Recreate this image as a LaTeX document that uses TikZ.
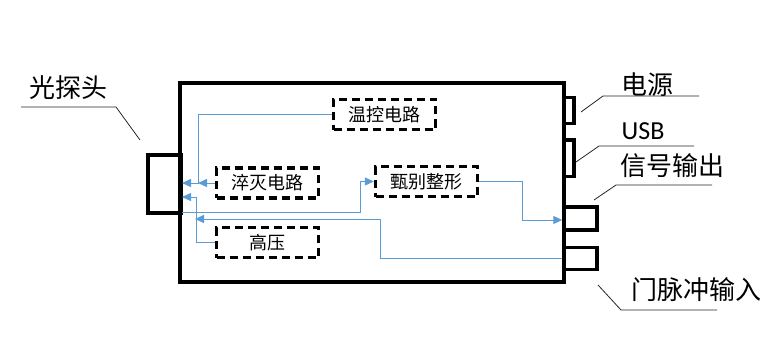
\documentclass[tikz,border=0pt]{standalone}
\usepackage{fontspec}
\usepackage{tikz}
\usetikzlibrary{positioning,arrows.meta,calc}
\newfontfamily\cjk{Noto Sans CJK SC}
\newfontfamily\latn{Carlito}
\definecolor{cWire}{HTML}{5B9BD5}
\definecolor{cLead}{HTML}{262626}
\tikzset{
  housing/.style={draw,line width=4pt,inner sep=0pt},  port/.style={draw,line width=3.5pt,inner sep=0pt},
  blk/.style={draw,dash pattern=on 8pt off 5pt,line width=3.4pt,inner sep=0pt,minimum width=102pt,minimum height=30pt,font=\cjk\fontsize{18}{20}\selectfont},
  lbl/.style={inner sep=0pt,font=\cjk\fontsize{26}{28}\selectfont},
  wire/.style={draw=cWire,line width=1pt},
  arr/.style={wire,-{Triangle[length=9pt,width=8pt]}},
  lead/.style={draw=cLead,line width=0.8pt}}
\begin{document}
\begin{tikzpicture}[x=1pt,y=-1pt]
\useasboundingbox (0,0) rectangle (773,350);
\node[housing,minimum width=384pt,minimum height=199pt] (main) at (372,182.5) {};
\node[housing,minimum width=33pt,minimum height=58pt] (probe) at (164.5,184) {};
\node[port,minimum width=9.5pt,minimum height=26pt] (pwr) at (569,110.5) {};
\node[port,minimum width=9.5pt,minimum height=36.5pt] (usb) at (569,158) {};
\node[port,minimum width=33pt,minimum height=23pt] (sout) at (580.5,218.5) {};
\node[port,minimum width=33pt,minimum height=22pt] (gate) at (580.5,258.5) {};
\node[blk] (tctl) at (384.5,114.5) {温控电路};
\node[blk] (quench) at (267.5,183) {淬灭电路};
\node[blk] (hv) at (267.5,242.5) {高压};
\node[blk] (disc) at (426.5,181.5) {甄别整形};
\coordinate (inA) at (182,183); \coordinate (inB) at (182,197); \coordinate (outA) at (182,212); \coordinate (inC) at (195,219);
\coordinate (tdrop) at (198,183); \coordinate (hrise) at (196,197); \coordinate (dbend) at (360,181.5);
\coordinate (sbend) at (522,220); \coordinate (gbend) at (380,219);
\draw[arr] (tctl.west) -| (tdrop) -- (inA); \draw[arr] (quench.west) -- (tdrop);
\draw[arr] (hv.west) -| (hrise) -- (inB); \draw[arr] (outA) -| (dbend) -- (disc.west);
\draw[arr] (disc.east) -| (sbend) -- (sbend -| sout.west); \draw[arr] (gate.west) -| (gbend) -- (inC);
\node[lbl] (lprobe) at (68,88) {光探头};
\node[lbl] (lpwr) at (647,85) {电源};
\node[lbl,font=\latn\fontsize{26}{28}\selectfont] (lusb) at (643,131) {USB};
\node[lbl] (lsout) at (672,166) {信号输出};
\node[lbl] (lgate) at (696,290) {门脉冲输入};
\foreach \xe/\xk/\yk/\xp/\yp in {21/116/107/140/140, 699/603/96/581/112, 694/599/146/576/162, 712/616/185/594/200, 717/621/310/598/285}
  \draw[lead] (\xe,\yk) -- (\xk,\yk) -- (\xp,\yp);
\end{tikzpicture}
\end{document}
